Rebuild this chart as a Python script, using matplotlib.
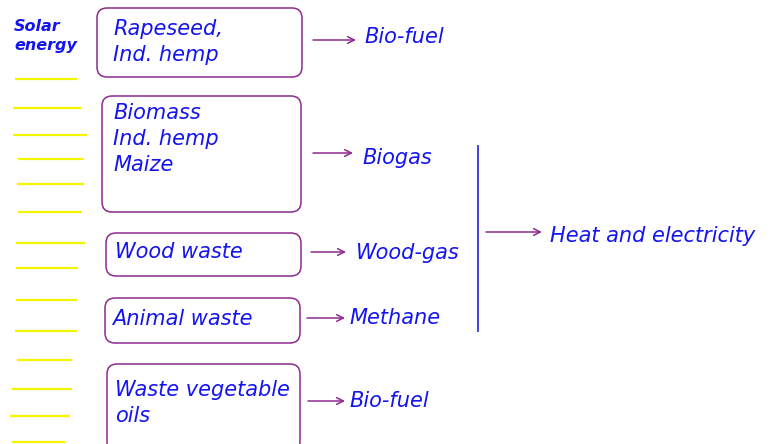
import matplotlib
matplotlib.use("Agg")
import matplotlib.pyplot as plt
from matplotlib.patches import FancyBboxPatch

# ---- data ----
source_labels = ["Rapeseed,\nInd. hemp", "Biomass\nInd. hemp\nMaize", "Wood waste",
                 "Animal waste", "Waste vegetable\noils"]
product_labels = ["Bio-fuel", "Biogas", "Wood-gas", "Methane", "Bio-fuel"]
final_label = "Heat and electricity"
solar_label = "Solar\nenergy"

# box geometry in pixel coords: (x0, y0, x1, y1)
boxes = [(97, 8, 302, 77), (102, 96, 301, 212), (106, 233, 301, 276),
         (105, 298, 300, 343), (107, 364, 300, 452)]
text_pos = [(113, 42), (113, 139), (115, 252), (112, 319), (115, 403)]
arrows = [(313, 356, 40), (313, 353, 153), (311, 346, 252), (307, 345, 318), (308, 345, 401)]
prod_pos = [(364, 37), (362, 158), (356, 253), (349, 318), (349, 401)]
yellow_y = [79, 108, 135, 159, 184, 212, 243, 268, 300, 331, 360, 389, 416, 442]
yellow_x0 = [15, 13, 13, 18, 17, 18, 16, 16, 16, 15, 17, 12, 10, 12]
yellow_x1 = [77, 81, 87, 84, 84, 82, 85, 78, 77, 77, 72, 72, 70, 65]

BLUE = "#1414f0"
PURPLE = "#8e2a8e"
FONT = "DejaVu Sans"
FS = 15

fig = plt.figure(figsize=(7.69, 4.44), dpi=100)
ax = fig.add_axes([0, 0, 1, 1])
ax.set_xlim(0, 769)
ax.set_ylim(444, 0)
ax.axis("off")

for y, x0, x1 in zip(yellow_y, yellow_x0, yellow_x1):
    ax.plot([x0, x1], [y, y], color="#f5f500", lw=1.6, solid_capstyle="butt")

ax.text(14, 36, solar_label, color=BLUE, fontsize=11.5, fontstyle="italic", fontweight="bold",
        family=FONT, va="center", ha="left", linespacing=1.3)

for (x0, y0, x1, y1) in boxes:
    p = FancyBboxPatch((x0, y0), x1 - x0, y1 - y0, boxstyle="round,pad=0,rounding_size=10",
                       fc="white", ec=PURPLE, lw=1.1, clip_on=True)
    ax.add_patch(p)

for lab, (x, y) in zip(source_labels, text_pos):
    ax.text(x, y, lab, color=BLUE, fontsize=FS, fontstyle="italic", family=FONT,
            va="center", ha="left", linespacing=1.35)

for (x0, x1, y) in arrows:
    ax.annotate("", xy=(x1, y), xytext=(x0, y),
                arrowprops=dict(arrowstyle="->", color=PURPLE, lw=1.1,
                                shrinkA=0, shrinkB=0, mutation_scale=12))

for lab, (x, y) in zip(product_labels, prod_pos):
    ax.text(x, y, lab, color=BLUE, fontsize=FS, fontstyle="italic", family=FONT,
            va="center", ha="left")

ax.plot([478, 478], [146, 331], color="#3030e0", lw=1.3)
ax.annotate("", xy=(542, 232), xytext=(486, 232),
            arrowprops=dict(arrowstyle="->", color=PURPLE, lw=1.1,
                            shrinkA=0, shrinkB=0, mutation_scale=12))
ax.text(550, 236, final_label, color=BLUE, fontsize=FS, fontstyle="italic", family=FONT,
        va="center", ha="left")

fig.savefig("out.png", dpi=100, facecolor="white")
